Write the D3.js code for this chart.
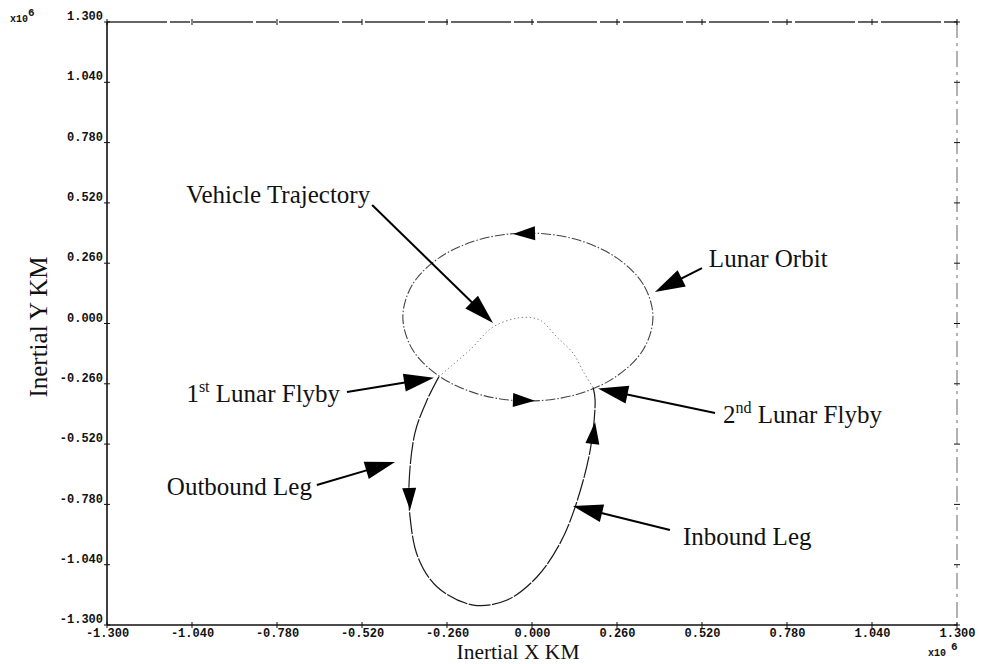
<!DOCTYPE html>
<html>
<head>
<meta charset="utf-8">
<script src="https://cdn.jsdelivr.net/npm/d3@7"></script>
<style>
  body { margin: 0; background: #fff; }
  .tick-label { font-family: "Liberation Mono", "DejaVu Sans Mono", monospace; font-weight: bold; font-size: 12px; fill: #111; }
  .title { font-family: "Liberation Serif", "Times New Roman", serif; font-size: 25px; fill: #111; }
</style>
</head>
<body>
<div id="chart"></div>
<script>
(function () {
    'use strict';

    // axis ticks, both axes (x10^6 km)
    var tickValues = [-1.3, -1.04, -0.78, -0.52, -0.26, 0, 0.26, 0.52, 0.78, 1.04, 1.3];
    var tickLabels = ['-1.300', '-1.040', '-0.780', '-0.520', '-0.260', '0.000', '0.260', '0.520', '0.780', '1.040', '1.300'];

    // lunar orbit, closed loop
    var orbitX = [0.370, 0.341, 0.258, 0.134, -0.012, -0.158, -0.283, -0.366, -0.395, -0.366, -0.283, -0.158, -0.012, 0.134, 0.258, 0.341];
    var orbitY = [0.028, 0.167, 0.284, 0.363, 0.390, 0.363, 0.284, 0.167, 0.028, -0.111, -0.228, -0.307, -0.334, -0.307, -0.228, -0.111];

    // vehicle, outbound + inbound legs (1st flyby -> 2nd flyby)
    var legX = [-0.285, -0.321, -0.358, -0.376, -0.373, -0.349, -0.290, -0.180, -0.076, 0.015, 0.086, 0.132, 0.178, 0.193, 0.187];
    var legY = [-0.230, -0.330, -0.472, -0.688, -0.834, -1.007, -1.136, -1.214, -1.192, -1.093, -0.947, -0.791, -0.546, -0.330, -0.276];

    // vehicle, arc near earth (2nd flyby -> 1st flyby)
    var arcX = [0.187, 0.160, 0.125, 0.076, 0.030, 0.003, -0.043, -0.119, -0.190, -0.251, -0.285];
    var arcY = [-0.276, -0.215, -0.127, -0.058, 0.010, 0.024, 0.024, -0.015, -0.114, -0.188, -0.230];

    // direction marks: [tailX, tailY, tipX, tipY]
    var flowArrows = [
        [0.015, 0.389, -0.058, 0.386],
        [-0.061, -0.330, 0.009, -0.333],
        [-0.376, -0.701, -0.373, -0.804],
        [0.184, -0.528, 0.193, -0.425]
    ];

    // callouts ('|' wraps the superscript)
    var calloutText = ['Vehicle Trajectory', 'Lunar Orbit', '1|st| Lunar Flyby', '2|nd| Lunar Flyby', 'Outbound Leg', 'Inbound Leg'];
    var calloutAlign = ['end', 'start', 'end', 'start', 'end', 'start'];
    var calloutPos = [[-0.495, 0.520], [0.541, 0.244], [-0.587, -0.338], [0.584, -0.429], [-0.673, -0.739], [0.462, -0.955]];
    var calloutTail = [[-0.489, 0.511], [0.520, 0.239], [-0.566, -0.295], [0.560, -0.386], [-0.658, -0.696], [0.422, -0.890]];
    var calloutTip = [[-0.119, 0.002], [0.376, 0.136], [-0.300, -0.234], [0.202, -0.280], [-0.419, -0.597], [0.125, -0.787]];

    var width = 981, height = 664;
    var svg = d3.select('#chart').append('svg')
        .attr('width', width)
        .attr('height', height)
        .style('background', '#fff');

    var x = d3.scaleLinear().domain([-1.3, 1.3]).range([107, 957]);
    var y = d3.scaleLinear().domain([-1.3, 1.3]).range([625, 22]);

    var zip = function (xs, ys) {
        return xs.map(function (v, i) { return [x(v), y(ys[i])]; });
    };

    var headPoints = function (tail, tip, len, hw) {
        var dx = tip[0] - tail[0], dy = tip[1] - tail[1];
        var d = Math.sqrt(dx * dx + dy * dy);
        var ux = dx / d, uy = dy / d;
        var bx = tip[0] - ux * len, by = tip[1] - uy * len;
        return [
            [tip[0], tip[1]],
            [bx - uy * hw, by + ux * hw],
            [bx + uy * hw, by - ux * hw]
        ].map(function (p) { return p.join(','); }).join(' ');
    };

    // frame
    var x0 = x(-1.3), x1 = x(1.3), y0 = y(-1.3), y1 = y(1.3);
    svg.append('line').attr('x1', x0).attr('y1', y1).attr('x2', x1).attr('y2', y1)
        .attr('stroke', '#333').attr('stroke-width', 1.4).attr('stroke-dasharray', '60,3,20,3');
    svg.append('line').attr('x1', x1).attr('y1', y1).attr('x2', x1).attr('y2', y0)
        .attr('stroke', '#666').attr('stroke-width', 1).attr('stroke-dasharray', '16,5,3,5');
    svg.append('line').attr('x1', x0).attr('y1', y1).attr('x2', x0).attr('y2', y0)
        .attr('stroke', '#111').attr('stroke-width', 1.6);
    svg.append('line').attr('x1', x0).attr('y1', y0).attr('x2', x1).attr('y2', y0)
        .attr('stroke', '#111').attr('stroke-width', 1.6);

    // axes, labels only
    var yAxis = svg.append('g')
        .attr('transform', 'translate(' + x0 + ',0)')
        .call(d3.axisLeft(y).tickValues(tickValues).tickSize(0).tickPadding(4)
            .tickFormat(function (d, i) { return tickLabels[i]; }));
    yAxis.select('.domain').remove();
    yAxis.selectAll('text').attr('class', 'tick-label').attr('dy', '-0.2em');

    var xAxis = svg.append('g')
        .attr('transform', 'translate(0,' + y0 + ')')
        .call(d3.axisBottom(x).tickValues(tickValues).tickSize(0).tickPadding(3)
            .tickFormat(function (d, i) { return tickLabels[i]; }));
    xAxis.select('.domain').remove();
    xAxis.selectAll('text').attr('class', 'tick-label');
    svg.selectAll('g').attr('font-family', null).attr('font-size', null);

    // tick crosses on all four sides
    var crosses = svg.append('g').attr('stroke', '#111').attr('stroke-width', 1);
    tickValues.forEach(function (v) {
        [x0, x1].forEach(function (xx) {
            crosses.append('line').attr('x1', xx - 3).attr('x2', xx + 3).attr('y1', y(v)).attr('y2', y(v));
        });
        [y0, y1].forEach(function (yy) {
            crosses.append('line').attr('x1', x(v)).attr('x2', x(v)).attr('y1', yy - 3).attr('y2', yy + 3);
        });
    });

    // multipliers
    [[10, 22, 0], [928, 656, 5]].forEach(function (p) {
        var t = svg.append('text').attr('class', 'tick-label').attr('x', p[0]).attr('y', p[1])
            .style('font-size', '10px');
        t.append('tspan').text('x10');
        t.append('tspan').attr('dx', p[2]).attr('dy', -6).style('font-size', '11px').text('6');
    });

    // axis titles
    svg.append('text').attr('class', 'title')
        .attr('transform', 'translate(47,327) rotate(-90)')
        .attr('text-anchor', 'middle')
        .text('Inertial Y KM');
    svg.append('text').attr('class', 'title')
        .attr('x', 518).attr('y', 659.3)
        .attr('text-anchor', 'middle')
        .style('font-size', '21.5px')
        .text('Inertial X KM');

    // curves
    var line = d3.line().curve(d3.curveCatmullRom.alpha(0.5));
    var closed = d3.line().curve(d3.curveCatmullRomClosed.alpha(0.5));

    svg.append('path')
        .attr('d', closed(zip(orbitX, orbitY)))
        .attr('fill', 'none').attr('stroke', '#444').attr('stroke-width', 1.1)
        .attr('stroke-dasharray', '10,2,1.5,2');
    svg.append('path')
        .attr('d', line(zip(legX, legY)))
        .attr('fill', 'none').attr('stroke', '#1a1a1a').attr('stroke-width', 1.2)
        .attr('stroke-dasharray', '22,1.5');
    svg.append('path')
        .attr('d', line(zip(arcX, arcY)))
        .attr('fill', 'none').attr('stroke', '#888').attr('stroke-width', 1)
        .attr('stroke-dasharray', '1.5,2.5');

    svg.append('g').selectAll('polygon')
        .data(flowArrows)
        .enter()
        .append('polygon')
        .attr('points', function (d) { return headPoints([x(d[0]), y(d[1])], [x(d[2]), y(d[3])], 22, 7); })
        .attr('fill', '#000');

    // callouts
    var callouts = svg.append('g').selectAll('g')
        .data(calloutText)
        .enter()
        .append('g');
    callouts.each(function (d, i) {
        var g = d3.select(this);
        var tail = [x(calloutTail[i][0]), y(calloutTail[i][1])];
        var tip = [x(calloutTip[i][0]), y(calloutTip[i][1])];
        var dx = tip[0] - tail[0], dy = tip[1] - tail[1];
        var len = Math.sqrt(dx * dx + dy * dy);
        g.append('line')
            .attr('x1', tail[0]).attr('y1', tail[1])
            .attr('x2', tip[0] - dx / len * 20).attr('y2', tip[1] - dy / len * 20)
            .attr('stroke', '#000').attr('stroke-width', 2);
        g.append('polygon')
            .attr('points', headPoints(tail, tip, 30, 9))
            .attr('fill', '#000');
        var t = g.append('text').attr('class', 'title')
            .attr('x', x(calloutPos[i][0])).attr('y', y(calloutPos[i][1]))
            .attr('text-anchor', calloutAlign[i]);
        var parts = d.split('|');
        if (parts.length === 3) {
            t.append('tspan').text(parts[0]);
            t.append('tspan').attr('dy', -10).style('font-size', '16px').text(parts[1]);
            t.append('tspan').attr('dy', 10).text(parts[2]);
        } else {
            t.text(d);
        }
    });
}());
</script>
</body>
</html>
